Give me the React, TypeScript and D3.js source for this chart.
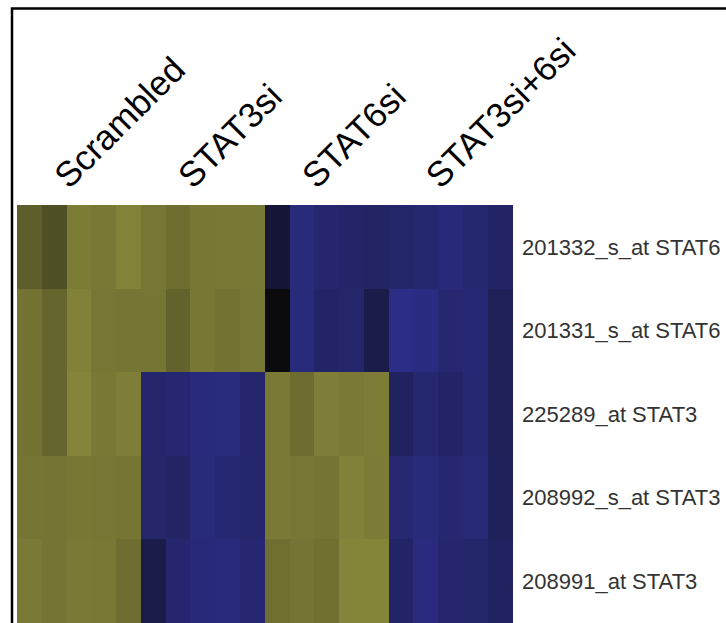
import React from "react";
import * as d3 from "d3";

const groups = ["Scrambled", "STAT3si", "STAT6si", "STAT3si+6si"];
const replicates = [1, 2, 3, 4, 5];
const probes = [
  "201332_s_at STAT6",
  "201331_s_at STAT6",
  "225289_at STAT3",
  "208992_s_at STAT3",
  "208991_at STAT3",
];

// expression values (normalized, -1 = low/blue, +1 = high/yellow), 20 samples each
const row201332 = [0.66, 0.55, 0.89, 0.87, 0.94, 0.85, 0.78, 0.86, 0.87, 0.87, -0.33, -0.89, -0.79, -0.75, -0.71, -0.77, -0.8, -0.87, -0.8, -0.72];
const row201331 = [0.82, 0.71, 0.93, 0.85, 0.84, 0.84, 0.69, 0.86, 0.81, 0.85, -0.02, -0.89, -0.73, -0.76, -0.49, -0.98, -0.95, -0.81, -0.84, -0.61];
const row225289 = [0.82, 0.71, 0.95, 0.87, 0.91, -0.76, -0.81, -0.9, -0.91, -0.76, 0.875, 0.77, 0.91, 0.875, 0.9, -0.68, -0.8, -0.73, -0.82, -0.61];
const row208992 = [0.84, 0.83, 0.86, 0.85, 0.84, -0.76, -0.71, -0.89, -0.82, -0.77, 0.875, 0.85, 0.83, 0.93, 0.89, -0.82, -0.89, -0.81, -0.85, -0.63];
const row208991 = [0.875, 0.83, 0.875, 0.87, 0.78, -0.5, -0.79, -0.87, -0.9, -0.81, 0.79, 0.83, 0.8, 0.96, 0.96, -0.73, -0.93, -0.79, -0.77, -0.68];

const rows = [row201332, row201331, row225289, row208992, row208991];

const W = 726;
const H = 623;
const hm = { left: 17, right: 512.5, top: 205, bottom: 623 };

export default function App() {
  const samples = groups.flatMap((g) => replicates.map((r) => `${g}_${r}`));
  const x = d3.scaleBand<string>().domain(samples).range([hm.left, hm.right]);
  const y = d3.scaleBand<string>().domain(probes).range([hm.top, hm.bottom]);
  const gx = d3.scaleBand<string>().domain(groups).range([hm.left, hm.right]);
  const color = d3
    .scaleLinear<string>()
    .domain([-1, 0, 1])
    .range(["#2c2e88", "#0a0a0c", "#8a8a3c"])
    .interpolate(d3.interpolateRgb);

  const cells: { key: string; x: number; y: number; w: number; h: number; fill: string }[] = [];
  rows.forEach((vals, ri) => {
    vals.forEach((v, ci) => {
      cells.push({
        key: `${ri}-${ci}`,
        x: x(samples[ci])!,
        y: y(probes[ri])!,
        w: x.bandwidth(),
        h: y.bandwidth(),
        fill: color(v),
      });
    });
  });

  return (
    <svg
      width={W}
      height={H}
      style={{ position: "absolute", left: 0, top: 0, background: "#fff" }}
      fontFamily="'Liberation Sans', Arial, sans-serif"
    >
      <rect x={0} y={0} width={W} height={H} fill="#fff" />
      {/* frame */}
      <path d={`M12,${H} L12,8.5 L${W},8.5`} fill="none" stroke="#000" strokeWidth={2.5} />
      {/* heatmap cells */}
      <g shapeRendering="crispEdges">
        {cells.map((c) => (
          <rect key={c.key} x={c.x} y={c.y} width={c.w + 0.5} height={c.h + 0.5} fill={c.fill} />
        ))}
      </g>
      {/* group labels */}
      {groups.map((g) => {
        const cx = gx(g)! + gx.bandwidth() / 2 - 10;
        const cy = 190;
        return (
          <text
            key={g}
            transform={`translate(${cx},${cy}) rotate(-45)`}
            fontSize={35}
            fill="#000"
          >
            {g}
          </text>
        );
      })}
      {/* probe labels */}
      {probes.map((p) => (
        <text
          key={p}
          x={hm.right + 9.5}
          y={y(p)! + y.bandwidth() / 2}
          dy="0.35em"
          fontSize={22}
          fill="#333"
        >
          {p}
        </text>
      ))}
    </svg>
  );
}
